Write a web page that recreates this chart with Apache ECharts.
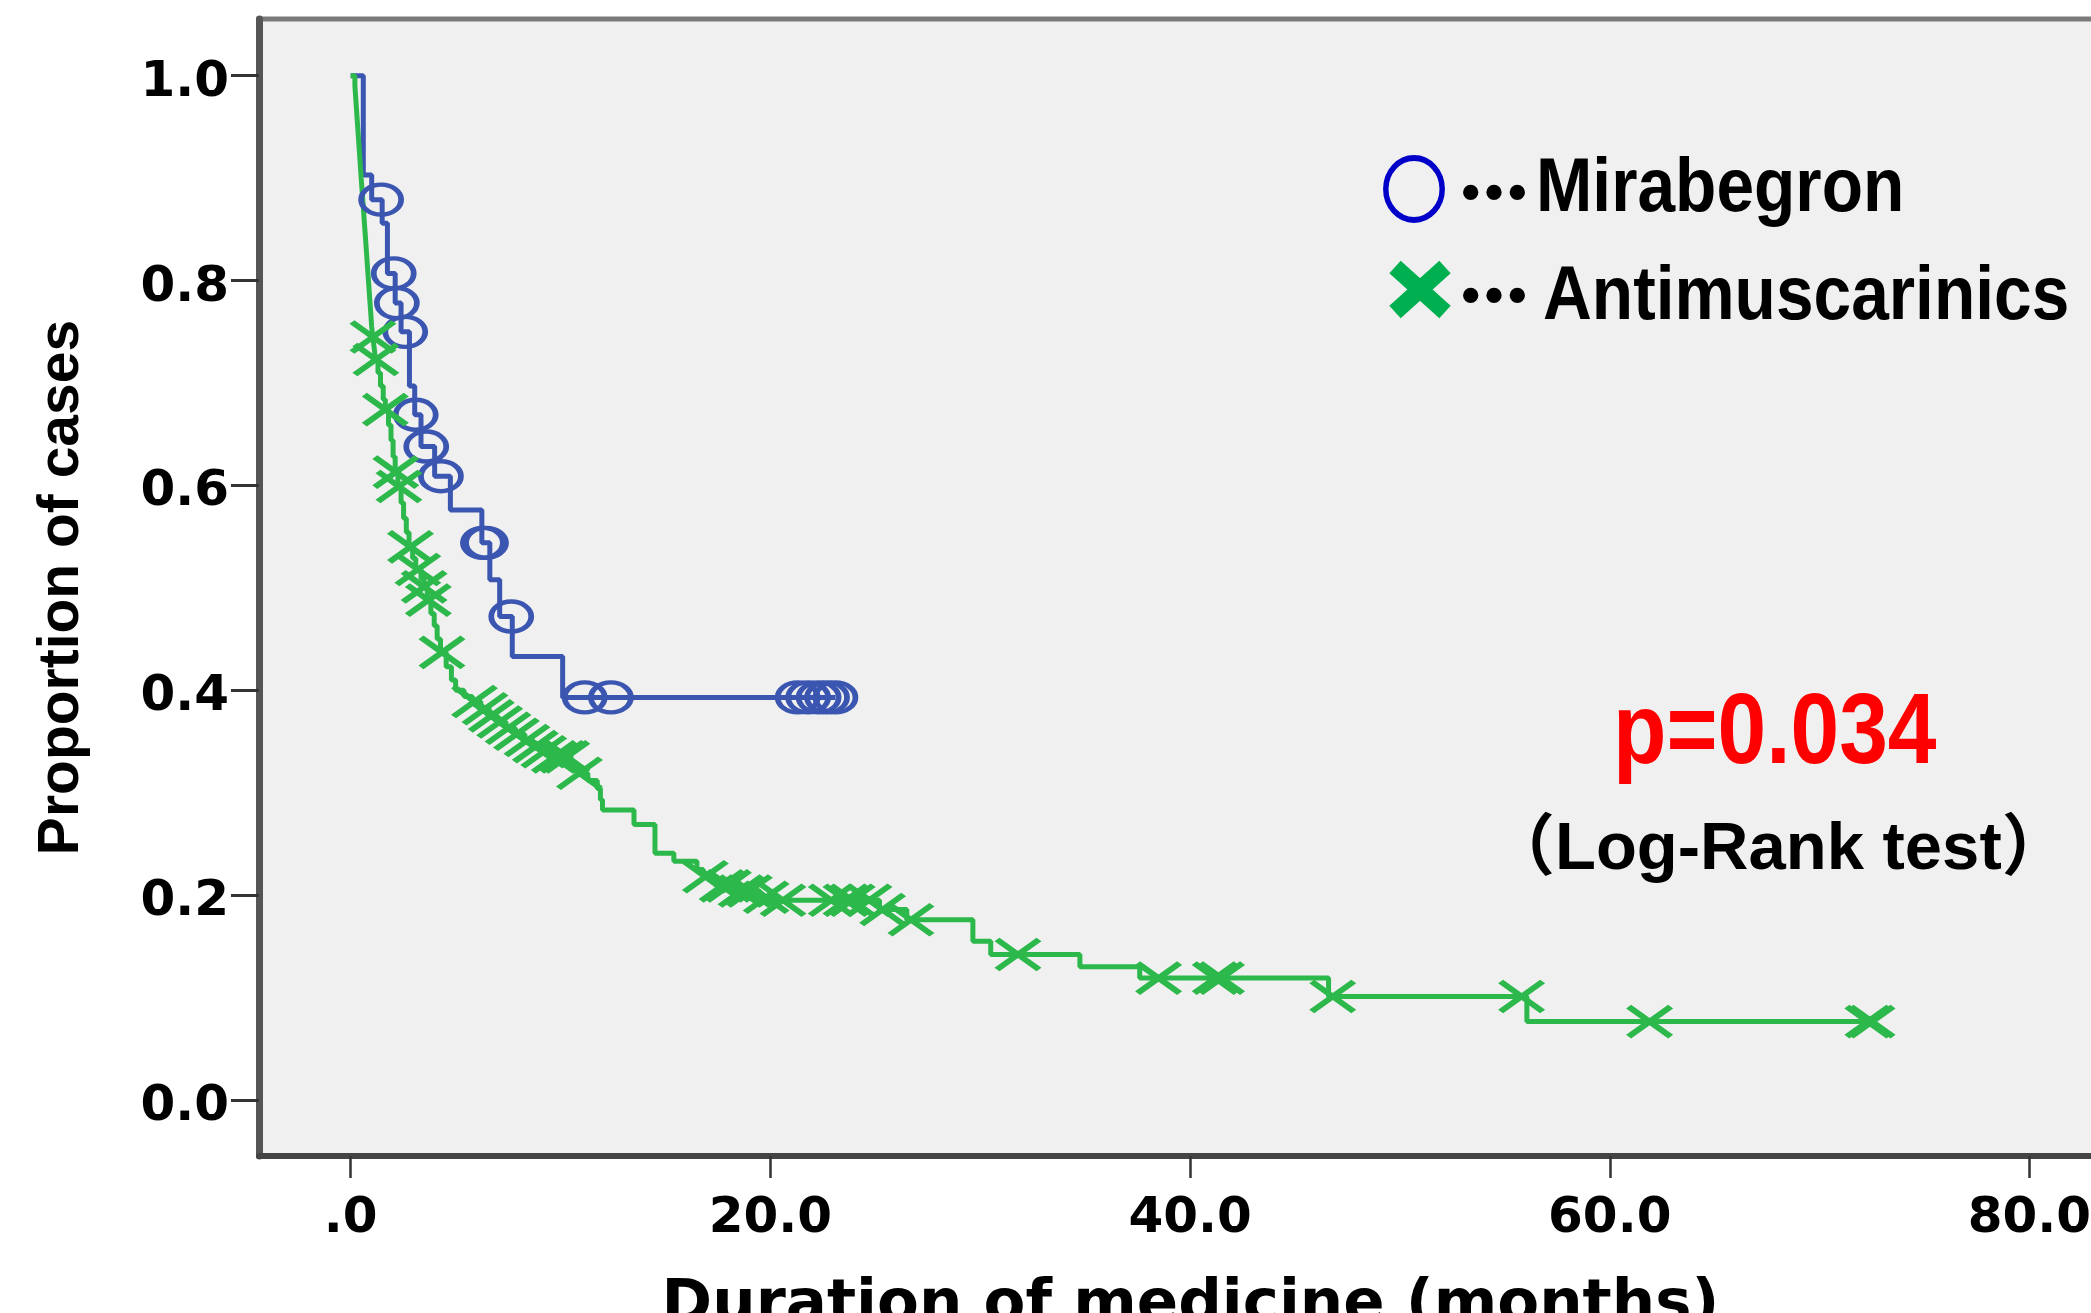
<!DOCTYPE html>
<html>
<head>
<meta charset="utf-8">
<script src="https://cdn.jsdelivr.net/npm/echarts@6/dist/echarts.min.js"></script>
<style>
html,body{margin:0;padding:0;background:#ffffff;}
#chart{width:2091px;height:1313px;}
</style>
</head>
<body>
<div id="chart"></div>
<script>
// ---- data ----
const xTicks = [0, 20, 40, 60, 80];
const yTicks = [0, 0.2, 0.4, 0.6, 0.8, 1.0];

// Mirabegron (Kaplan-Meier steps: time of drop, survival after drop)
const mirabegronTime = [0, 0.6, 1.0, 1.5, 1.75, 2.12, 2.4, 2.8, 3.05, 3.35, 4.0, 4.75, 6.25, 6.63, 7.1, 7.7, 10.1];
const mirabegronSurv = [1.0, 0.903, 0.879, 0.856, 0.807, 0.778, 0.750, 0.697, 0.669, 0.638, 0.609, 0.576, 0.544, 0.508, 0.472, 0.433, 0.393];
const mirabegronCensor = [1.45, 2.05, 2.2, 2.6, 3.1, 3.6, 4.3, 6.3, 6.45, 7.65, 11.15, 12.4, 21.3, 21.8, 22.3, 22.7, 23.1];
const mirabegronEnd = 23.1;

// Antimuscarinics
const antiTime = [0, 0.2, 0.25, 0.3, 0.35, 0.4, 0.45, 0.5, 0.55, 0.6, 0.65, 0.7, 0.75, 0.8, 0.85, 0.9, 0.95, 1.0, 1.05, 1.12, 1.18,
  1.3, 1.42, 1.55, 1.65, 1.8, 1.92, 2.02, 2.12, 2.25, 2.4, 2.52, 2.65, 2.78, 2.95, 3.1, 3.35, 3.5, 3.65, 3.82, 3.98, 4.12, 4.28,
  4.55, 4.8, 5.0, 5.4, 5.8, 6.2, 6.6, 7.0, 7.4, 7.85, 8.3, 8.7, 9.1, 9.6, 10.5, 10.8, 11.3, 11.75, 11.9, 12.0, 13.5, 14.5,
  15.4, 16.5, 16.8, 17.4, 18.3, 19.5, 20.2, 25.2, 26.5, 29.65, 30.5, 34.75, 37.6, 46.6, 56.05];
const antiSurv = [1.0, 0.99, 0.975, 0.96, 0.945, 0.93, 0.915, 0.9, 0.886, 0.872, 0.857, 0.843, 0.828, 0.813, 0.799, 0.784, 0.77, 0.755, 0.745, 0.734, 0.723,
  0.71, 0.697, 0.684, 0.674, 0.659, 0.644, 0.628, 0.613, 0.599, 0.583, 0.568, 0.554, 0.540, 0.529, 0.518, 0.509, 0.501, 0.488, 0.475, 0.463, 0.450, 0.437,
  0.423, 0.410, 0.400, 0.394, 0.389, 0.382, 0.375, 0.369, 0.363, 0.357, 0.351, 0.345, 0.340, 0.335, 0.327, 0.319, 0.312, 0.304, 0.293, 0.283, 0.269, 0.241,
  0.233, 0.225, 0.218, 0.209, 0.204, 0.198, 0.195, 0.186, 0.176, 0.155, 0.142, 0.130, 0.119, 0.101, 0.0765];
const antiCensor = [1.06, 1.2, 1.65, 2.15, 2.3, 2.85, 3.2, 3.5, 3.7, 4.35, 5.9, 6.4, 6.7, 7.1, 7.5, 7.9, 8.4, 8.8, 9.2, 9.7, 10.1, 10.3, 10.9,
  16.9, 17.7, 18.0, 18.6, 19.0, 19.8, 20.6, 22.9, 23.6, 23.9, 24.7, 25.35, 26.7, 31.8, 38.5, 41.2, 41.5, 46.8, 55.8, 61.9, 72.3, 72.5];
const antiEnd = 72.5;

// ---- helpers ----
function stepAt(times, surv, t) {
  let s = surv[0];
  for (let i = 0; i < times.length; i++) { if (times[i] <= t) s = surv[i]; }
  return s;
}
function curve(times, surv, end) {
  const d = times.map((t, i) => [t, surv[i]]);
  d.push([end, surv[surv.length - 1]]);
  return d;
}

const BLUE = '#3b56b1';
const GREEN = '#2db84b';
const TICK_FONT = 'DejaVu Sans';

const chart = echarts.init(document.getElementById('chart'), null, {renderer: 'canvas'});
chart.setOption({
  animation: false,
  backgroundColor: '#ffffff',
  grid: {
    left: 259, top: 19, width: 1842, height: 1137,
    outerBoundsMode: 'none', containLabel: false,
    show: true, backgroundColor: '#f0f0f0', borderColor: '#7a7a7a', borderWidth: 5
  },
  xAxis: {
    type: 'value', min: -4.37, max: 83.41,
    name: 'Duration of medicine (months)', nameLocation: 'middle', nameGap: 120,
    nameTextStyle: {fontFamily: TICK_FONT, fontWeight: 'bold', fontSize: 61, color: '#000', padding: [0, 0, 0, 21]},
    axisLine: {show: true, onZero: false, lineStyle: {color: '#444', width: 6}},
    axisTick: {show: true, customValues: xTicks, length: 22, lineStyle: {color: '#333', width: 2.5}},
    axisLabel: {show: true, customValues: xTicks, margin: 38, fontFamily: TICK_FONT, fontWeight: 'bold', fontSize: 50, color: '#000',
      formatter: v => (v === 0 ? '.0' : v.toFixed(1))},
    splitLine: {show: false}
  },
  yAxis: {
    type: 'value', min: -0.0547, max: 1.0554,
    name: 'Proportion of cases', nameLocation: 'middle', nameGap: 168,
    nameTextStyle: {fontFamily: 'Liberation Sans', fontWeight: 'bold', fontSize: 57, color: '#000'},
    axisLine: {show: true, onZero: false, lineStyle: {color: '#555', width: 7}},
    axisTick: {show: true, customValues: yTicks, length: 28, lineStyle: {color: '#333', width: 3}},
    axisLabel: {show: true, customValues: yTicks, margin: 30, verticalAlign: 'top', lineHeight: 14,
      fontFamily: TICK_FONT, fontWeight: 'bold', fontSize: 50, color: '#000',
      formatter: v => v.toFixed(1)},
    splitLine: {show: false}
  },
  series: [
    {name: 'Mirabegron', type: 'line', step: 'end', data: curve(mirabegronTime, mirabegronSurv, mirabegronEnd),
      showSymbol: false, symbol: 'none', lineStyle: {color: BLUE, width: 5}, z: 2},
    {name: 'Antimuscarinics', type: 'line', step: 'end', data: curve(antiTime, antiSurv, antiEnd),
      showSymbol: false, symbol: 'none', lineStyle: {color: GREEN, width: 5}, z: 3},
    {name: 'Mirabegron censored', type: 'scatter', data: mirabegronCensor.map(t => [t, stepAt(mirabegronTime, mirabegronSurv, t)]),
      symbol: 'circle', symbolSize: [40, 30], itemStyle: {color: 'rgba(0,0,0,0)', borderColor: BLUE, borderWidth: 5, opacity: 1}, z: 4},
    {name: 'Antimuscarinics censored', type: 'scatter', data: antiCensor.map(t => [t, stepAt(antiTime, antiSurv, t)]),
      symbol: 'path://M0,0L10,10M10,0L0,10', symbolSize: [42, 30], itemStyle: {color: GREEN, borderColor: GREEN, borderWidth: 6, opacity: 1}, z: 5}
  ],
  graphic: [
    {type: 'circle', x: 1414, y: 189, scaleX: 0.91, shape: {cx: 0, cy: 0, r: 31}, style: {fill: 'none', stroke: '#0000c8', lineWidth: 6}, z: 10},
    {type: 'line', shape: {x1: 1395, y1: 267, x2: 1445, y2: 312}, style: {stroke: '#00b050', lineWidth: 17}, z: 10},
    {type: 'line', shape: {x1: 1445, y1: 267, x2: 1395, y2: 312}, style: {stroke: '#00b050', lineWidth: 17}, z: 10},
    {type: 'text', x: 1459, y: 192, style: {x: 0, y: 0, text: '…', fontFamily: 'Noto Sans CJK JP', fontWeight: 'bold', fontSize: 70, fill: '#000', stroke: '#000', lineWidth: 4, align: 'left', verticalAlign: 'middle'}, z: 10},
    {type: 'text', x: 1459, y: 295, style: {x: 0, y: 0, text: '…', fontFamily: 'Noto Sans CJK JP', fontWeight: 'bold', fontSize: 70, fill: '#000', stroke: '#000', lineWidth: 4, align: 'left', verticalAlign: 'middle'}, z: 10},
    {type: 'text', x: 1536, y: 190, scaleX: 0.89, style: {x: 0, y: 0, text: 'Mirabegron', fontFamily: 'Liberation Sans', fontWeight: 'bold', fontSize: 76, fill: '#000', align: 'left', verticalAlign: 'middle'}, z: 10},
    {type: 'text', x: 1543, y: 298, scaleX: 0.89, style: {x: 0, y: 0, text: 'Antimuscarinics', fontFamily: 'Liberation Sans', fontWeight: 'bold', fontSize: 76, fill: '#000', align: 'left', verticalAlign: 'middle'}, z: 10},
    {type: 'text', x: 1613, y: 735, scaleX: 0.875, style: {x: 0, y: 0, text: 'p=0.034', fontFamily: 'Liberation Sans', fontWeight: 'bold', fontSize: 100, fill: '#ff0000', align: 'left', verticalAlign: 'middle'}, z: 10},
    {type: 'text', x: 1488, y: 851, style: {x: 0, y: 0, text: '（Log-Rank test）', fontFamily: '"Liberation Sans", "Noto Sans CJK JP"', fontWeight: 'bold', fontSize: 67, fill: '#000', align: 'left', verticalAlign: 'middle'}, z: 10}
  ]
});
</script>
</body>
</html>
